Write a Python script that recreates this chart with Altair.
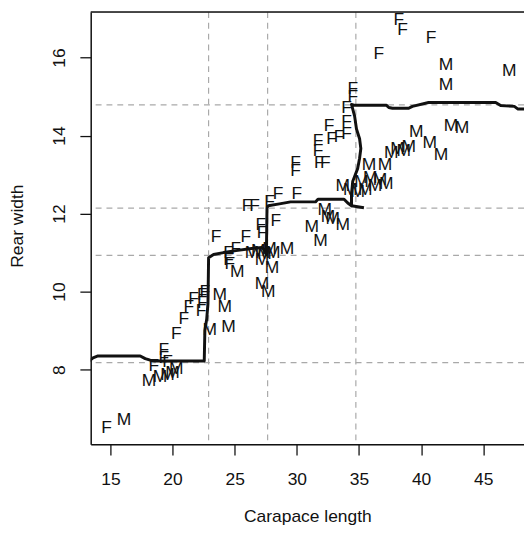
import altair as alt
import pandas as pd

# ---- data ----
f_cl = [14.7, 18.5, 19.3, 19.3, 19.6, 20.3, 20.9, 21.3, 21.7, 22.3, 22.4, 22.4, 22.6,
        23.5, 24.5, 24.5, 24.6, 25.1, 25.9, 26.0, 26.6, 27.1, 27.2, 27.8, 28.3, 28.5,
        30.0, 29.9, 29.9, 31.7, 31.7, 31.8, 32.3, 32.6, 32.8, 33.4, 34.0, 34.0, 34.0,
        34.5, 34.5, 36.6, 38.2, 38.5, 40.8]
f_rw = [6.5, 8.1, 8.3, 8.5, 8.2, 8.9, 9.3, 9.6, 9.8, 9.5, 9.7, 9.9, 10.0,
        11.4, 11.0, 10.8, 10.7, 11.1, 11.4, 12.2, 12.2, 11.7, 11.5, 12.3, 11.8, 12.5,
        12.5, 13.1, 13.3, 13.6, 13.85, 13.3, 13.3, 14.25, 13.9, 13.95, 14.05, 14.35, 14.7,
        15.0, 15.2, 16.1, 16.95, 16.7, 16.5]
m_cl = [16.1, 18.1, 19.0, 19.6, 20.0, 20.3, 23.0, 23.8, 24.2, 24.5, 25.2, 26.4, 26.9,
        27.2, 27.4, 28.0, 28.1, 27.8, 29.2, 27.2, 27.7, 31.2, 31.9, 32.25, 32.5, 32.9,
        33.7, 33.7, 34.3, 34.9, 35.2, 35.5, 35.9, 36.3, 36.7, 37.2, 35.8, 37.1, 37.6,
        38.1, 38.6, 39.0, 39.6, 40.7, 41.6, 42.4, 43.3, 42.0, 42.0, 47.1]
m_rw = [6.7, 7.7, 7.8, 7.85, 7.9, 8.0, 9.0, 9.9, 9.6, 9.1, 10.5, 11.0, 11.05,
        10.8, 10.95, 10.6, 11.0, 11.1, 11.1, 10.2, 10.0, 11.65, 11.3, 12.1, 11.9, 11.85,
        11.7, 12.7, 12.6, 12.55, 12.8, 12.6, 12.9, 12.7, 12.85, 12.75, 13.25, 13.25, 13.55,
        13.65, 13.6, 13.7, 14.1, 13.8, 13.5, 14.25, 14.2, 15.3, 15.8, 15.65]

line_cl = [13.3, 13.6, 14.0, 17.4, 17.8, 18.2, 18.6, 22.55, 22.6, 22.75, 22.85, 22.9, 23.3,
           24.1, 25.1, 26.2, 27.2, 27.45, 27.55, 27.6, 27.7, 28.6, 29.5, 31.5, 31.7, 33.8,
           34.1, 34.4, 34.4, 34.5, 34.65, 34.9, 35.05, 35.15, 35.05, 34.8, 34.65, 34.4, 34.6,
           37.2, 37.4, 37.7, 39.0, 39.3, 40.6, 46.0, 46.4, 47.5, 47.8, 48.5]
line_rw = [8.22, 8.30, 8.35, 8.35, 8.28, 8.24, 8.22, 8.22, 9.0, 9.3, 9.7, 10.87, 10.95,
           11.0, 11.05, 11.1, 11.13, 11.05, 10.95, 12.15, 12.2, 12.25, 12.3, 12.3, 12.37, 12.37,
           12.27, 12.2, 12.5, 12.83, 12.95, 13.16, 13.42, 13.67, 13.92, 14.17, 14.5, 14.8, 14.78,
           14.78, 14.72, 14.70, 14.70, 14.75, 14.85, 14.85, 14.77, 14.75, 14.68, 14.68]
stub_cl = [34.4, 35.4]
stub_rw = [12.2, 12.15]

vgrid = [22.9, 27.65, 34.75]
hgrid = [8.18, 10.93, 12.14, 14.79]
x_ticks = [15, 20, 25, 30, 35, 40, 45]
y_ticks = [8, 10, 12, 14, 16]

# ---- tables ----
pts = pd.DataFrame({
    "cl": f_cl + m_cl,
    "rw": f_rw + m_rw,
    "sex": ["F"] * len(f_cl) + ["M"] * len(m_cl),
})
path = pd.DataFrame({
    "cl": line_cl + stub_cl,
    "rw": line_rw + stub_rw,
    "seg": ["a"] * len(line_cl) + ["b"] * len(stub_cl),
    "i": list(range(len(line_cl))) + list(range(len(stub_cl))),
})
vg = pd.DataFrame({"cl": vgrid})
hg = pd.DataFrame({"rw": hgrid})

FONT = "Liberation Sans"
FS = 17.7
INK = "#111111"

xs = alt.Scale(domain=[13.415, 48.28], nice=False, zero=False)
ys = alt.Scale(domain=[6.084, 17.17], nice=False, zero=False)

x_axis = alt.Axis(values=x_ticks, title="Carapace length", grid=False,
                  tickSize=11, tickColor=INK, tickWidth=1.3,
                  domainColor=INK, domainWidth=1.5,
                  labelFont=FONT, labelFontSize=FS, labelColor=INK,
                  labelBaseline="alphabetic", labelPadding=29.5,
                  labelFlush=False, labelOverlap=False,
                  titleFont=FONT, titleFontSize=FS, titleFontWeight="normal",
                  titleColor=INK, titleBaseline="alphabetic", titleY=78)
y_axis = alt.Axis(values=y_ticks, title="Rear width", grid=False,
                  tickSize=11, tickColor=INK, tickWidth=1.3,
                  domainColor=INK, domainWidth=1.5,
                  labelFont=FONT, labelFontSize=FS, labelColor=INK,
                  labelAngle=270, labelAlign="center", labelBaseline="alphabetic",
                  labelPadding=15.5, labelFlush=False, labelOverlap=False,
                  titleFont=FONT, titleFontSize=FS, titleFontWeight="normal",
                  titleColor=INK, titleAngle=270, titleAlign="center",
                  titleBaseline="alphabetic", titleX=-69, titleY=217)

X = alt.X("cl:Q", scale=xs, axis=x_axis)
Y = alt.Y("rw:Q", scale=ys, axis=y_axis)

grid_style = dict(color="#a9a9a9", strokeDash=[6, 5], strokeWidth=1.2)

vlines = alt.Chart(vg).mark_rule(**grid_style).encode(x=X)
hlines = alt.Chart(hg).mark_rule(**grid_style).encode(y=Y)

curve = alt.Chart(path).mark_line(color="#111111", strokeWidth=3, clip=True,
                                  strokeJoin="round").encode(
    x=X, y=Y, detail="seg:N", order="i:Q",
)

letters = alt.Chart(pts).mark_text(font=FONT, fontSize=FS, color=INK,
                                   align="center", baseline="middle", clip=True).encode(
    x=X, y=Y, text="sex:N",
)

top_frame = alt.Chart(pd.DataFrame({"k": [0]})).mark_rule(
    color=INK, strokeWidth=1.5).encode(
    x=alt.value(0), x2=alt.value(440), y=alt.value(0))

chart = alt.layer(vlines, hlines, curve, letters, top_frame).properties(
    width=440, height=439,
    autosize=alt.AutoSizeParams(type="none"),
    padding={"left": 84, "top": 0, "right": 0, "bottom": 83},
).configure_view(stroke=None).configure(background="white")

chart.save("out.html", embed_options={"renderer": "svg", "actions": False})
